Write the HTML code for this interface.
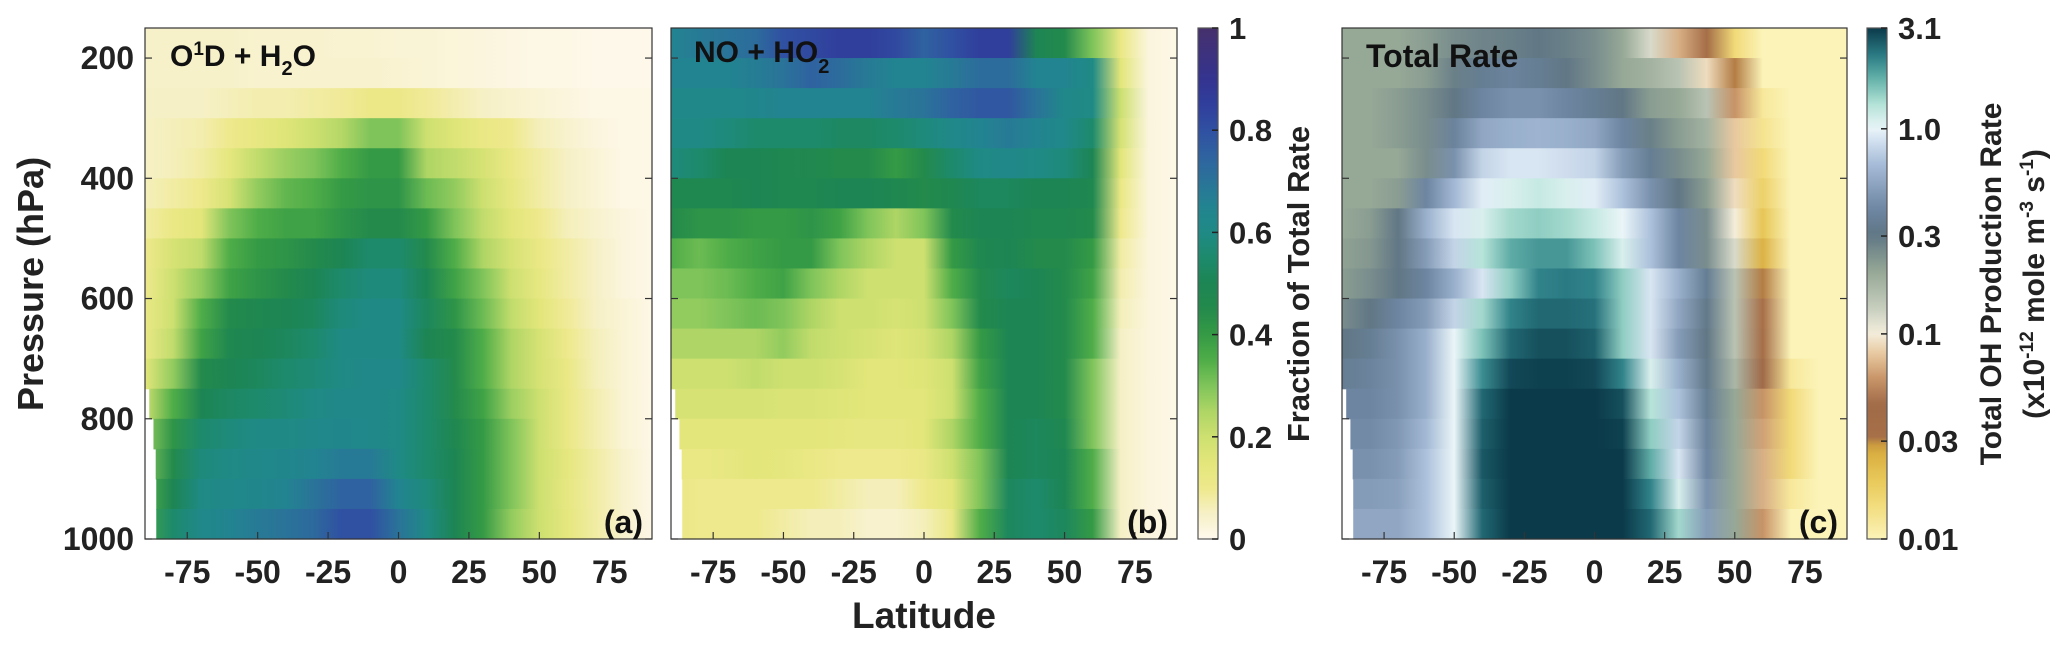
<!DOCTYPE html>
<html><head><meta charset="utf-8">
<style>
html,body{margin:0;padding:0;background:#fff;}
svg{display:block;font-family:"Liberation Sans",Arial,sans-serif;font-weight:bold;}
</style></head>
<body>
<svg id="fig" width="2067" height="647" viewBox="0 0 2067 647" xmlns="http://www.w3.org/2000/svg">
<defs id="defs"></defs>
<g id="root"></g>
</svg>
<script>
// ---- data ----
const latitudes = [-90,-80,-70,-60,-50,-40,-30,-20,-10,0,10,20,30,40,50,60,70,80,90];
const pressureTops = [150,200,250,300,350,400,450,500,550,600,650,700,750,800,850,900,950];
const rowStartLat = [-90,-90,-90,-90,-90,-90,-90,-90,-90,-90,-90,-90,-88.5,-87,-86.2,-86,-86];
const yTicks = [200,400,600,800,1000];
const xTicks = [-75,-50,-25,0,25,50,75];
const fracTicks = [0,0.2,0.4,0.6,0.8,1];
const fracTickLabels = ["0","0.2","0.4","0.6","0.8","1"];
const rateTicks = [0.01,0.03,0.1,0.3,1.0,3.1];
const rateTickLabels = ["0.01","0.03","0.1","0.3","1.0","3.1"];

const o1dH2O = [
[.045,.045,.045,.045,.04,.04,.04,.035,.035,.03,.03,.025,.02,.015,.01,.01,.005,.005,.005],
[.045,.045,.045,.045,.04,.04,.04,.04,.04,.035,.03,.025,.02,.015,.01,.01,.005,.005,.005],
[.05,.05,.05,.06,.07,.07,.08,.09,.11,.11,.09,.07,.05,.04,.03,.02,.01,.01,.01],
[.05,.06,.07,.10,.13,.16,.20,.24,.30,.30,.20,.16,.12,.10,.06,.04,.02,.01,.01],
[.05,.06,.08,.14,.22,.27,.30,.35,.40,.40,.25,.22,.18,.12,.08,.05,.03,.01,.01],
[.06,.08,.10,.18,.28,.33,.35,.40,.42,.42,.32,.28,.20,.13,.08,.05,.03,.01,.01],
[.08,.12,.15,.30,.35,.38,.38,.42,.45,.45,.40,.30,.22,.15,.10,.06,.04,.02,.01],
[.10,.18,.22,.35,.40,.42,.45,.50,.55,.55,.45,.35,.25,.18,.12,.08,.05,.02,.01],
[.10,.20,.28,.38,.42,.45,.50,.55,.58,.58,.50,.38,.30,.20,.13,.08,.05,.02,.01],
[.12,.20,.35,.45,.48,.50,.52,.58,.60,.60,.52,.42,.32,.22,.15,.09,.05,.03,.01],
[.12,.22,.38,.48,.50,.52,.55,.60,.60,.60,.50,.45,.35,.25,.18,.10,.06,.03,.01],
[.15,.28,.45,.50,.52,.55,.57,.60,.62,.62,.55,.45,.35,.25,.18,.12,.06,.03,.01],
[.20,.35,.50,.53,.55,.57,.60,.62,.62,.60,.55,.45,.38,.27,.20,.12,.07,.03,.01],
[.28,.42,.55,.58,.60,.60,.62,.63,.62,.60,.55,.48,.40,.30,.20,.12,.07,.03,.01],
[.30,.45,.58,.60,.62,.63,.65,.68,.68,.60,.55,.50,.40,.30,.20,.14,.08,.04,.01],
[.35,.50,.60,.62,.63,.65,.70,.75,.75,.65,.58,.50,.40,.30,.20,.13,.08,.04,.01],
[.38,.55,.62,.65,.68,.70,.73,.80,.80,.70,.60,.50,.40,.28,.20,.14,.08,.04,.01]
];
const noHO2 = [
[.65,.68,.70,.72,.80,.82,.85,.85,.82,.75,.80,.85,.85,.50,.45,.30,.12,.02,.01],
[.65,.65,.65,.67,.70,.75,.72,.68,.65,.65,.68,.72,.72,.65,.65,.60,.15,.02,.01],
[.62,.62,.62,.63,.65,.65,.65,.65,.68,.70,.75,.78,.78,.70,.62,.60,.20,.02,.01],
[.60,.60,.58,.55,.55,.55,.53,.53,.55,.58,.62,.65,.68,.65,.62,.55,.18,.02,.01],
[.58,.55,.50,.50,.48,.47,.45,.45,.40,.45,.55,.60,.62,.60,.58,.50,.15,.02,.01],
[.48,.48,.48,.50,.48,.48,.50,.50,.48,.45,.48,.52,.52,.50,.50,.48,.12,.02,.01],
[.45,.42,.42,.40,.40,.42,.38,.30,.25,.30,.45,.50,.50,.48,.48,.45,.10,.02,.01],
[.35,.32,.35,.38,.40,.40,.30,.25,.20,.20,.40,.48,.50,.45,.45,.40,.08,.02,.01],
[.30,.30,.32,.35,.38,.30,.25,.20,.20,.20,.35,.45,.52,.50,.45,.38,.07,.02,.01],
[.28,.28,.30,.32,.30,.25,.20,.20,.18,.20,.30,.45,.50,.50,.45,.35,.06,.02,.01],
[.25,.25,.25,.25,.28,.22,.20,.18,.16,.18,.25,.40,.50,.50,.45,.35,.05,.02,.01],
[.20,.20,.20,.22,.20,.20,.18,.15,.15,.16,.20,.38,.50,.50,.45,.30,.05,.02,.01],
[.18,.18,.18,.18,.17,.17,.16,.15,.15,.15,.20,.35,.50,.50,.45,.30,.05,.02,.01],
[.15,.15,.15,.15,.15,.15,.14,.13,.13,.15,.25,.35,.50,.52,.48,.30,.05,.02,.01],
[.12,.12,.13,.15,.14,.12,.10,.10,.10,.12,.20,.30,.50,.52,.50,.35,.05,.02,.01],
[.12,.10,.10,.10,.10,.10,.08,.06,.06,.10,.15,.30,.52,.55,.50,.35,.05,.02,.01],
[.12,.10,.10,.10,.08,.06,.06,.04,.04,.06,.12,.35,.52,.55,.52,.40,.05,.02,.01]
];
const totalRate = [
[.20,.20,.20,.22,.25,.27,.28,.30,.28,.25,.20,.12,.07,.035,.015,.01,.01,.01,.01],
[.20,.20,.20,.22,.28,.35,.38,.35,.30,.25,.20,.18,.15,.09,.03,.01,.01,.01,.01],
[.20,.20,.22,.25,.30,.40,.45,.45,.40,.35,.30,.22,.20,.15,.06,.012,.01,.01,.01],
[.20,.20,.22,.25,.38,.55,.60,.62,.60,.55,.40,.28,.22,.18,.08,.013,.01,.01,.01],
[.20,.20,.20,.25,.45,.80,.90,.90,.85,.80,.50,.35,.25,.20,.08,.015,.01,.01,.01],
[.20,.20,.22,.40,.65,.95,1.10,1.20,1.10,.95,.70,.45,.30,.22,.09,.017,.01,.01,.01],
[.20,.22,.30,.60,.90,1.10,1.40,1.50,1.40,1.20,1.00,.70,.40,.25,.10,.02,.01,.01,.01],
[.21,.23,.30,.50,.80,1.30,1.80,2.00,2.00,1.60,1.10,.70,.40,.25,.12,.025,.01,.01,.01],
[.22,.25,.30,.40,.60,.90,1.50,2.20,2.30,2.20,1.50,.90,.60,.35,.15,.03,.01,.01,.01],
[.25,.30,.40,.50,.80,1.40,2.20,2.50,2.50,2.40,1.50,.90,.55,.32,.15,.032,.01,.01,.01],
[.30,.35,.45,.60,1.00,1.60,2.50,2.80,2.80,2.60,1.50,.90,.50,.30,.15,.035,.01,.01,.01],
[.35,.38,.45,.60,1.00,2.10,2.90,3.00,3.00,2.90,2.20,1.10,.60,.32,.17,.045,.012,.01,.01],
[.40,.40,.45,.60,1.00,2.50,3.10,3.10,3.10,3.10,2.80,1.30,.70,.35,.20,.06,.015,.01,.01],
[.42,.42,.48,.65,1.00,2.60,3.10,3.10,3.10,3.10,3.00,1.50,.80,.38,.20,.065,.015,.01,.01],
[.45,.45,.50,.70,1.00,2.70,3.10,3.10,3.10,3.10,3.10,1.80,.90,.40,.20,.07,.015,.01,.01],
[.50,.50,.52,.70,1.00,2.60,3.10,3.10,3.10,3.10,3.10,2.20,1.10,.45,.20,.07,.012,.01,.01],
[.55,.55,.55,.70,1.00,2.50,3.10,3.10,3.10,3.10,3.10,2.50,1.40,.50,.20,.06,.01,.01,.01]
];

// ---- colormaps ----
const cmapFrac = [[0,"#fff9ee"],[.05,"#f6f0c6"],[.1,"#eee98c"],[.15,"#e3e67a"],[.2,"#cde070"],[.25,"#aed565"],[.3,"#7fc45a"],[.35,"#4fad48"],[.4,"#359a45"],[.45,"#238a4c"],[.5,"#1d8553"],[.55,"#1d8a6c"],[.6,"#1f8a85"],[.65,"#228490"],[.7,"#2a7399"],[.75,"#2f62a0"],[.8,"#3050a2"],[.85,"#303e9c"],[.9,"#343490"],[1,"#46306c"]];
const cmapRate = [[0,"#fbf3b8"],[.071,"#f1da78"],[.121,"#e7c656"],[.18,"#d6a83c"],[.195,"#a87048"],[.262,"#a06a48"],[.314,"#c89468"],[.363,"#e8c9a0"],[.403,"#f4eedc"],[.449,"#c9d0c0"],[.524,"#95a795"],[.595,"#5f7685"],[.645,"#6e86a2"],[.734,"#a6bcd8"],[.79,"#dde9f5"],[.803,"#eaf5f8"],[.85,"#b5e3d8"],[.896,"#6bb7ad"],[.943,"#2d8088"],[1,"#0b3a4a"]];
function hex2rgb(h){return [parseInt(h.slice(1,3),16),parseInt(h.slice(3,5),16),parseInt(h.slice(5,7),16)];}
function cmap(stops,t){
  t=Math.max(0,Math.min(1,t));
  for(let i=1;i<stops.length;i++){
    if(t<=stops[i][0]){
      const a=stops[i-1],b=stops[i];const f=(t-a[0])/(b[0]-a[0]);
      const ca=hex2rgb(a[1]),cb=hex2rgb(b[1]);
      return "rgb("+ca.map((v,k)=>Math.round(v+(cb[k]-v)*f)).join(",")+")";
    }
  }
  return stops[stops.length-1][1];
}
const fracColor = v=>cmap(cmapFrac,v);
const rateT = v=>Math.log10(v/0.01)/Math.log10(3.1/0.01);
const rateColor = v=>cmap(cmapRate,rateT(v));

// ---- layout ----
const NS="http://www.w3.org/2000/svg";
const root=document.getElementById('root');
const defs=document.getElementById('defs');
const TOP=28,BOT=539;
const yScale = p => BOT-(1000-p)*(BOT-TOP)/850;
function mk(tag,attrs,parent){const e=document.createElementNS(NS,tag);for(const k in attrs)e.setAttribute(k,attrs[k]);(parent||root).appendChild(e);return e;}

const panels=[
 {id:"a",x0:145,x1:652,data:o1dH2O,color:fracColor,label:"(a)"},
 {id:"b",x0:671,x1:1177,data:noHO2,color:fracColor,label:"(b)"},
 {id:"c",x0:1342,x1:1847,data:totalRate,color:rateColor,label:"(c)"}
];

panels.forEach(P=>{
  const xScale = lat => P.x0+(lat+90)*(P.x1-P.x0)/180;
  const g=mk('g',{});
  
  
  P.data.forEach((row,ri)=>{
    const gid='grad-'+P.id+'-'+ri;
    const lg=mk('linearGradient',{id:gid,x1:xScale(-90),x2:xScale(90),y1:0,y2:0,gradientUnits:"userSpaceOnUse"},defs);
    row.forEach((v,ci)=>{
      mk('stop',{offset:((latitudes[ci]+90)/180).toFixed(4),'stop-color':P.color(v)},lg);
    });
    const yT=yScale(pressureTops[ri]), yB=yScale(pressureTops[ri]+50);
    const xs=xScale(rowStartLat[ri]);
    const r=mk('rect',{x:xs,y:yT,width:xScale(90)-xs,height:yB-yT+0.6,fill:'url(#'+gid+')'},g);
    
    
  });
  const box=mk('rect',{x:P.x0,y:TOP,width:P.x1-P.x0,height:BOT-TOP,fill:'none',stroke:'#333','stroke-width':1.2});
  
  
  yTicks.forEach(p=>{
    const y=yScale(p);
    mk('line',{x1:P.x0,x2:P.x0+7,y1:y,y2:y,stroke:'#333','stroke-width':1.2});
    mk('line',{x1:P.x1-7,x2:P.x1,y1:y,y2:y,stroke:'#333','stroke-width':1.2});
    if(P.id==='a'){
      const t=mk('text',{x:P.x0-11,y:y+11,'font-size':32,'text-anchor':'end',fill:'#222'});
      t.textContent=p;
      
      
    }
  });
  xTicks.forEach(l=>{
    const x=xScale(l);
    mk('line',{x1:x,x2:x,y1:BOT,y2:BOT-7,stroke:'#333','stroke-width':1.2});
    const t=mk('text',{x:x,y:583,'font-size':32,'text-anchor':'middle',fill:'#222'});
    t.textContent=l;
    
    
  });
  const lab=mk('text',{x:P.x1-9,y:533,'font-size':32,'text-anchor':'end',fill:'#111'});
  lab.textContent=P.label;
  
  
});

(function(){
  const t1=mk('text',{x:170,y:66,'font-size':30,fill:'#111'});
  t1.innerHTML='O<tspan dy="-11" font-size="19">1</tspan><tspan dy="11">D + H</tspan><tspan dy="9" font-size="20">2</tspan><tspan dy="-9">O</tspan>';
  
  
  const t2=mk('text',{x:694,y:62,'font-size':30,fill:'#111'});
  t2.innerHTML='NO + HO<tspan dy="11" font-size="20">2</tspan>';
  
  
  const t3=mk('text',{x:1366,y:67,'font-size':32,fill:'#111'});
  t3.textContent='Total Rate';
  
  
})();

function colorbar(x0,x1,colorFn,valToT,ticks,labels,name){
  const gid='cb-'+name;
  const lg=mk('linearGradient',{id:gid,x1:0,x2:0,y1:BOT,y2:TOP,gradientUnits:"userSpaceOnUse"},defs);
  for(let i=0;i<=60;i++){const t=i/60;mk('stop',{offset:t,'stop-color':colorFn(t)},lg);}
  const r=mk('rect',{x:x0,y:TOP,width:x1-x0,height:BOT-TOP,fill:'url(#'+gid+')',stroke:'#555','stroke-width':1.2});
  
  
  ticks.forEach((v,i)=>{
    const y=BOT-valToT(v)*(BOT-TOP);
    mk('line',{x1:x1-6,x2:x1,y1:y,y2:y,stroke:'#222','stroke-width':1.5});
    const t=mk('text',{x:x1+11,y:y+11,'font-size':31,fill:'#222'});
    t.textContent=labels[i];
    
    
  });
}
colorbar(1198,1218,t=>cmap(cmapFrac,t),v=>v,fracTicks,fracTickLabels,'fraction');
colorbar(1867,1887,t=>cmap(cmapRate,t),rateT,rateTicks,rateTickLabels,'rate');

(function(){
  const a=mk('text',{x:0,y:0,'font-size':36,'text-anchor':'middle',fill:'#222',transform:'translate(43,284) rotate(-90)'});
  a.textContent='Pressure (hPa)';
  
  
  const b=mk('text',{x:924,y:628,'font-size':37,'text-anchor':'middle',fill:'#222'});
  b.textContent='Latitude';
  
  
  const c=mk('text',{x:0,y:0,'font-size':31,'text-anchor':'middle',fill:'#222',transform:'translate(1309,284) rotate(-90)'});
  c.textContent='Fraction of Total Rate';
  
  
  const d=mk('text',{x:0,y:0,'font-size':30,'text-anchor':'middle',fill:'#222',transform:'translate(2001,284) rotate(-90)'});
  d.textContent='Total OH Production Rate';
  
  
  const e=mk('text',{x:0,y:0,'font-size':30,'text-anchor':'middle',fill:'#222',transform:'translate(2044,284) rotate(-90)'});
  e.innerHTML='(x10<tspan dy="-11" font-size="19">-12</tspan><tspan dy="11"> mole m</tspan><tspan dy="-11" font-size="19">-3</tspan><tspan dy="11"> s</tspan><tspan dy="-11" font-size="19">-1</tspan><tspan dy="11">)</tspan>';
  
  
})();
</script>
</body></html>
